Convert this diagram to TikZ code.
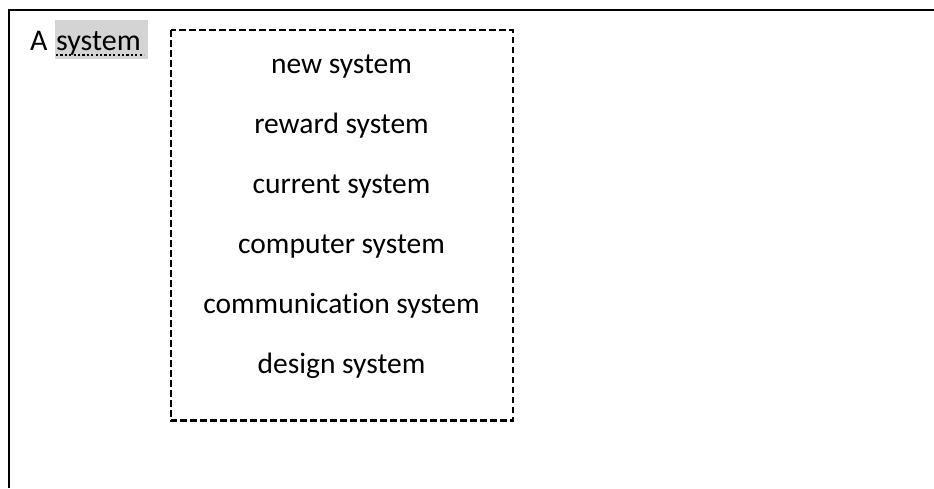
\documentclass[tikz,border=0pt]{standalone}
\usepackage{fontspec}
\setmainfont[Ligatures=NoCommon]{Carlito}
\begin{document}
\begin{tikzpicture}[x=1pt,y=-1pt,
  frame/.style={line width=2.2pt,black},
  dashbox/.style={line width=2.3pt,black,dash pattern=on 6.5pt off 3.5pt},
  item/.style={anchor=base,inner sep=0pt,font=\fontsize{29.5}{34}\selectfont},
  label/.style={anchor=base west,inner sep=0pt,font=\fontsize{30}{35}\selectfont},
  hilite/.style={fill=black!17,draw=none}]
  \useasboundingbox (0,0) rectangle (934,488);
  % open frame: top and left edges
  \coordinate (corner) at (9,10);
  \coordinate (topend) at (934,10);
  \coordinate (leftend) at (9,488);
  \draw[frame] (topend) -- (corner) -- (leftend);
  % highlighted heading word
  \fill[hilite] (55,20) rectangle (147.5,59.3);
  \node[label] (lead) at (30,50) {A};
  \node[label] (word) at (56,50) {system};
  \draw[line width=2.2pt,dash pattern=on 2.2pt off 2.2pt] (word.base west) ++(0,5) coordinate (ulA) -- ++(88,0) coordinate (ulB);
  % dashed list box
  \draw[dashbox] (170.7,30) rectangle (512.7,420.5);
  \node[item] (n1) at (341.5,73) {new system};
  \node[item] (n2) at (341.5,133) {reward system};
  \node[item] (n3) at (341.5,193) {current system};
  \node[item] (n4) at (341.5,253) {computer system};
  \node[item] (n5) at (341.5,313) {communication system};
  \node[item] (n6) at (341.5,373) {design system};
\end{tikzpicture}
\end{document}
